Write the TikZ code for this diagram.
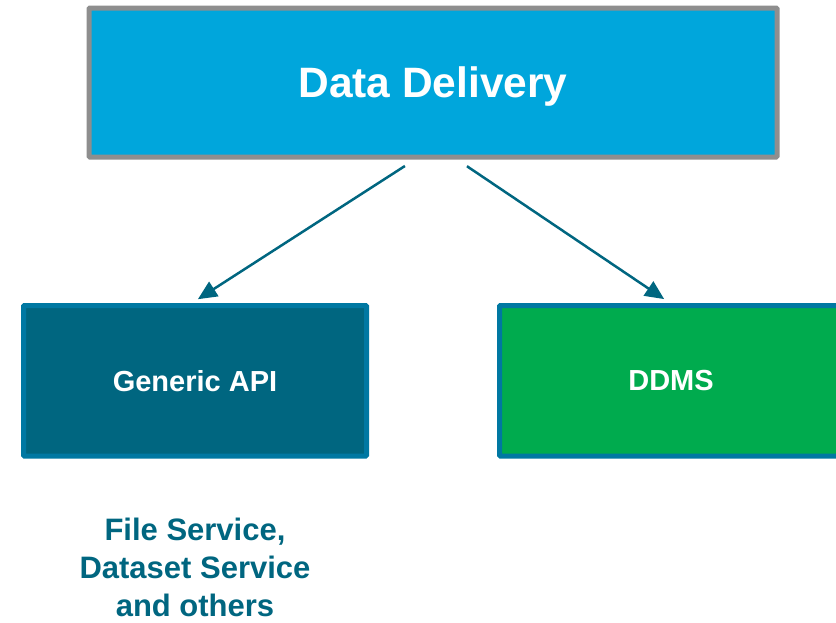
\documentclass[tikz,border=0pt]{standalone}
\usepackage{fontspec}
\setmainfont{Liberation Sans}
\usetikzlibrary{positioning, arrows.meta}
\definecolor{ddblue}{RGB}{0,166,220}
\definecolor{framegray}{RGB}{142,142,142}
\definecolor{apiteal}{RGB}{0,102,128}
\definecolor{edgeblue}{RGB}{0,120,162}
\definecolor{ddmsgreen}{RGB}{0,171,78}
\tikzset{
  box/.style={draw, line width=5pt, rounded corners=1pt, text=white, text depth=0pt,
    font=\bfseries\fontsize{29}{35}\selectfont},
  link/.style={draw=apiteal, line width=2.5pt, -{Triangle[length=19pt,width=17pt]}},
}

\begin{document}
\begin{tikzpicture}[x=1pt,y=-1pt]
    \useasboundingbox (0,0) rectangle (836,622);
    \clip (0,0) rectangle (836,622);

    \node[box, fill=ddblue, draw=framegray, minimum width=688pt, minimum height=149pt,
      font=\bfseries\fontsize{42.5}{50}\selectfont] (dd) at (433,82.5) {Data Delivery};%top box
    \node[box, fill=apiteal, draw=edgeblue, minimum width=343pt, minimum height=150.5pt] (api) at (195,380.75) {Generic API};
    \node[box, fill=ddmsgreen, draw=edgeblue, minimum width=343pt, minimum height=150.5pt] (ddms) at (671,380.75) {DDMS};

    \node[below=59pt of api, inner sep=0pt, align=center, text=apiteal,
      font=\bfseries\fontsize{31}{38}\selectfont] (note) {File Service,\\Dataset Service\\and others};

    \draw[link, shorten <=12pt, shorten >=7pt] ([xshift=-18pt]dd.south) -- ([xshift=-3pt]api.north);
    \draw[link, shorten <=12pt, shorten >=7pt] ([xshift=24pt]dd.south) -- ([xshift=-1pt]ddms.north);
\end{tikzpicture}
\end{document}
